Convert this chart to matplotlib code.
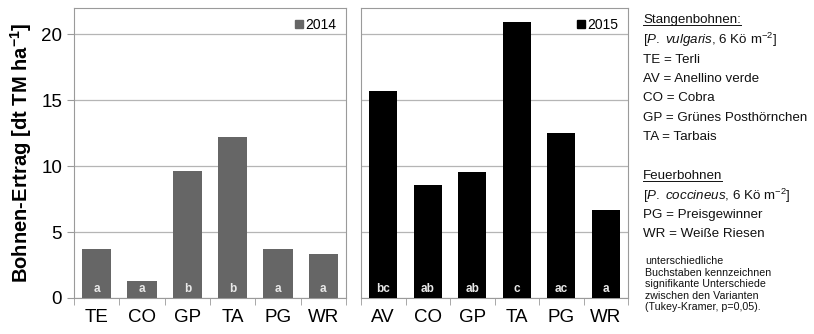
import matplotlib.pyplot as plt
from matplotlib.patches import Patch

plt.rcParams["font.family"] = ["Liberation Sans", "DejaVu Sans"]
plt.rcParams["mathtext.fontset"] = "custom"
plt.rcParams["mathtext.it"] = "Liberation Sans:italic"
plt.rcParams["mathtext.rm"] = "Liberation Sans"
plt.rcParams["mathtext.bf"] = "Liberation Sans:bold"

# yields per variety, dt dry matter per ha
cats_2014 = ["TE", "CO", "GP", "TA", "PG", "WR"]
yield_2014 = [3.7, 1.3, 9.6, 12.25, 3.7, 3.35]
letters_2014 = ["a", "a", "b", "b", "a", "a"]

cats_2015 = ["AV", "CO", "GP", "TA", "PG", "WR"]
yield_2015 = [15.7, 8.6, 9.55, 20.95, 12.5, 6.65]
letters_2015 = ["bc", "ab", "ab", "c", "ac", "a"]

frame_col = "#9a9a9a"
grid_col = "#b5b5b5"

fig = plt.figure(figsize=(8.14, 3.34), dpi=100)
ax1 = fig.add_axes([74 / 814, 36 / 334, 272 / 814, 290 / 334])
ax2 = fig.add_axes([361 / 814, 36 / 334, 267 / 814, 290 / 334])


def draw_panel(ax, cats, vals, letters, color, year):
    x = range(len(cats))
    ax.bar(x, vals, width=0.64, color=color, zorder=3)
    for xi, lab in zip(x, letters):
        ax.annotate(lab, (xi, 0), xytext=(0, 6.5), textcoords="offset points",
                    ha="center", va="center", color="#e8e8e8",
                    fontsize=8.5, fontweight="bold", zorder=4)
    ax.set_xlim(-0.5, len(cats) - 0.5)
    ax.set_ylim(0, 22)
    ax.set_yticks([0, 5, 10, 15, 20])
    ax.grid(axis="y", color=grid_col, linewidth=0.9, zorder=0)
    for s in ax.spines.values():
        s.set_color(frame_col)
    ax.set_xticks(list(x))
    ax.set_xticklabels(cats, fontsize=13.5)
    ax.set_xticks([i - 0.5 for i in range(len(cats) + 1)], minor=True)
    ax.tick_params(axis="x", which="major", length=0, pad=8)
    ax.tick_params(axis="x", which="minor", length=5, color=frame_col)
    ax.tick_params(axis="y", length=5, color=frame_col, labelsize=13.5)
    ax.legend(handles=[Patch(color=color, label=year)], loc="upper right",
              frameon=False, fontsize=10, handlelength=0.55, handleheight=0.55,
              handletextpad=0.2, borderaxespad=0.3)


draw_panel(ax1, cats_2014, yield_2014, letters_2014, "#666666", "2014")
draw_panel(ax2, cats_2015, yield_2015, letters_2015, "#000000", "2015")
ax2.tick_params(axis="y", length=0, labelleft=False)

ax1.set_ylabel("Bohnen-Ertrag [dt TM ha$^{\\mathbf{-1}}$]",
               fontsize=14.5, fontweight="bold", labelpad=5)

# variety key on the right
tx = 643 / 814
key_lines = [
    (20, "Stangenbohnen:", True),
    (40, "[$\\mathit{P.}$ $\\mathit{vulgaris}$, 6 Kö m$^{\\mathregular{-2}}$]", False),
    (60, "TE = Terli", False),
    (79, "AV = Anellino verde", False),
    (98, "CO = Cobra", False),
    (118, "GP = Grünes Posthörnchen", False),
    (137, "TA = Tarbais", False),
    (176, "Feuerbohnen", True),
    (196, "[$\\mathit{P.}$ $\\mathit{coccineus}$, 6 Kö m$^{\\mathregular{-2}}$]", False),
    (215, "PG = Preisgewinner", False),
    (234, "WR = Weiße Riesen", False),
]
for y, txt, under in key_lines:
    t = fig.text(tx, 1 - y / 334, txt, fontsize=9.6, va="center", ha="left",
                 color="#111111")
    if under:
        fig.canvas.draw()
        bb = t.get_window_extent()
        fig.add_artist(plt.Line2D([bb.x0 / 814, bb.x1 / 814],
                                  [bb.y0 / 334 + 0.004, bb.y0 / 334 + 0.004],
                                  color="#111111", linewidth=0.7))

note = ("unterschiedliche\nBuchstaben kennzeichnen\nsignifikante Unterschiede\n"
        "zwischen den Varianten\n(Tukey-Kramer, p=0,05).")
fig.text(645 / 814, 1 - 256 / 334, note, fontsize=7.7, va="top", ha="left",
         linespacing=1.2, color="#111111")

fig.savefig("out.png", dpi=100)
